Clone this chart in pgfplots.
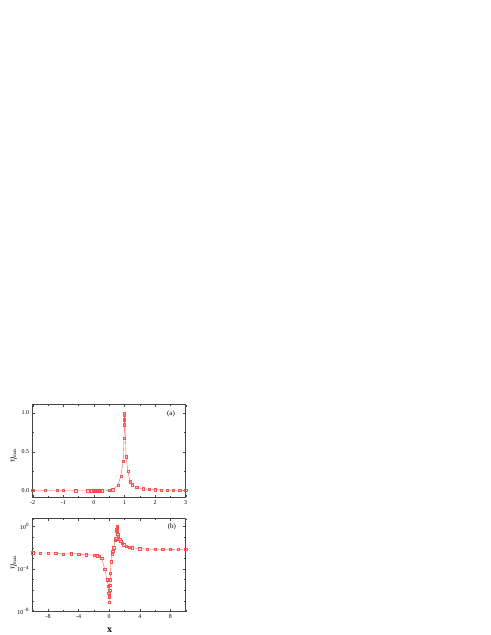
\documentclass[border=0pt]{standalone}
\usepackage{fontspec}
\setmainfont{Liberation Serif}
\usepackage{pgfplots}
\pgfplotsset{compat=1.18}
\definecolor{curve}{RGB}{250,80,80}
\definecolor{frame}{RGB}{70,70,70}

\pgfplotsset{
  panel/.style={
    scale only axis, width=153bp,
    axis line style={frame, line width=0.5pt},
    every tick/.style={frame, line width=0.4pt},
    major tick length=2.6bp, minor tick length=1.5bp,
    tick align=inside,
    tick label style={font=\fontsize{6}{7}\selectfont},
    /pgf/number format/assume math mode=true,
    ylabel style={font=\fontsize{13}{14}\selectfont},
  },
  ser/.style={curve, line width=0.35pt, mark=square, mark size=1.15bp,
    mark options={fill=white, line width=0.35pt}},
}

\begin{document}
\begin{tikzpicture}
\useasboundingbox (0,0) rectangle (491bp,635bp);

% panel (a)
\begin{axis}[panel, at={(32.7bp,137.7bp)}, anchor=south west, height=92.6bp,
  xmin=-2, xmax=3, ymin=-0.085, ymax=1.107,
  xtick={-2,-1,0,1,2,3}, ytick={0,0.5,1},
  minor x tick num=1, minor y tick num=1,
  yticklabel style={/pgf/number format/.cd, fixed, fixed zerofill, precision=1},
  ylabel={$\eta_{\scriptscriptstyle\mathrm{max}}$},
  every axis y label/.style={at={(axis description cs:-0.125,0.45)}, rotate=90, anchor=center},
]
\addplot[ser] coordinates {
(-2,0.003) (-1.6,0.003) (-1.2,0.003) (-1.0,0.003) (-0.6,0.002) (-0.2,0.002)
(-0.08,0.002) (0,0.001) (0.05,0.001) (0.1,0.001) (0.15,0.001) (0.2,0.002) (0.25,0.002)
(0.5,0.004) (0.61,0.013) (0.79,0.075) (0.88,0.19) (0.957,0.376)
(0.985,0.68) (0.99,0.85) (0.995,0.915) (1.0,0.97) (1.0,1.0)
(1.054,0.437) (1.11,0.25) (1.185,0.118) (1.26,0.079) (1.40,0.042)
(1.6,0.025) (1.8,0.017) (2.0,0.012) (2.2,0.01) (2.4,0.008) (2.6,0.007) (2.8,0.006) (3.0,0.005)
};
\node[font=\fontsize{7}{8}\selectfont] at (rel axis cs:0.904,0.9) {(a)};
\end{axis}

% panel (b)
\begin{axis}[panel, at={(32.7bp,23.5bp)}, anchor=south west, height=93bp,
  xmin=-10, xmax=10, ymode=log, ymin=1e-8, ymax=5.6,
  xtick={-8,-4,0,4,8}, minor xtick={-10,-6,-2,2,6,10},
  ytick={1e-8,1e-4,1},
  yticklabels={10\textsuperscript{−8},10\textsuperscript{−4},10\textsuperscript{0}},
  minor ytick={1e-7,1e-6,1e-5,1e-3,1e-2,1e-1},
  ylabel={$\eta_{\scriptscriptstyle\mathrm{max}}$},
  every axis y label/.style={at={(axis description cs:-0.125,0.53)}, rotate=90, anchor=center},
  xlabel={\textbf{x}},
  xlabel style={font=\fontsize{10}{12}\selectfont},
  every axis x label/.style={at={(axis description cs:0.502,-0.2)}, anchor=center},
]
\addplot[ser] coordinates {
(-10,3.31e-3) (-9,3.16e-3) (-8,3.16e-3) (-7,3.16e-3) (-6,2.51e-3) (-5,2.82e-3)
(-4,2.51e-3) (-3,2.24e-3) (-2,2.0e-3) (-1.6,1.78e-3) (-1.3,1.51e-3) (-1.0,1.07e-3)
(-0.6,1e-4) (-0.3,1e-5) (-0.1,2.51e-6) (-0.05,5.01e-7) (0,7.94e-8)
(0.02,2.51e-7) (0.05,1e-6) (0.08,3.16e-6) (0.12,1e-5) (0.17,3.98e-5)
(0.22,5.01e-4) (0.35,2.51e-3) (0.45,5.01e-3) (0.6,1e-2) (0.75,5.01e-2)
(0.85,7.08e-2) (0.95,0.355) (0.99,0.562) (1.0,1) (1.02,0.794) (1.05,0.398)
(1.1,0.2) (1.2,0.126) (1.35,6.31e-2) (1.5,3.98e-2) (1.7,2.51e-2) (1.9,1.91e-2)
(2.2,1.48e-2) (2.6,1.12e-2) (3,1e-2) (4,7.94e-3) (5,7.59e-3) (6,7.24e-3)
(7,7.08e-3) (8,7.08e-3) (9,6.76e-3) (10,6.76e-3)
};
\node[font=\fontsize{7}{8}\selectfont] at (rel axis cs:0.91,0.909) {(b)};
\end{axis}
\end{tikzpicture}
\end{document}
